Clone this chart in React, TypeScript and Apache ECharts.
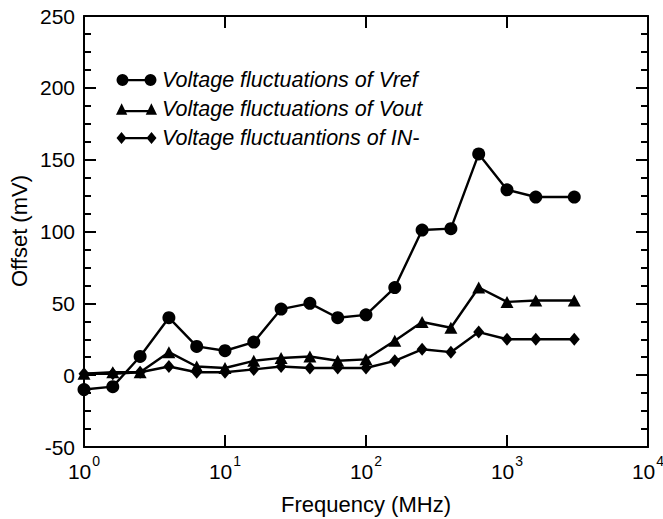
import React, { useEffect, useRef } from "react";
import * as echarts from "echarts";

const freq = [1, 1.6, 2.5, 4, 6.3, 10, 16, 25, 40, 63, 100, 160, 250, 400, 630, 1000, 1600, 3000];
const vref = [-10, -8, 13, 40, 20, 17, 23, 46, 50, 40, 42, 61, 101, 102, 154, 129, 124, 124];
const vout = [1, 2, 2, 16, 6, 5, 10, 12, 13, 10, 11, 24, 37, 33, 61, 51, 52, 52];
const inMinus = [1, 1, 2, 6, 2, 2, 4, 6, 5, 5, 5, 10, 18, 16, 30, 25, 25, 25];
const seriesNames = [
  "Voltage fluctuations of Vref",
  "Voltage fluctuations of Vout",
  "Voltage fluctuantions of IN-",
];
const xTitle = "Frequency (MHz)";
const yTitle = "Offset (mV)";

const FONT = "'Liberation Sans', Arial, Helvetica, sans-serif";

const iconCircle =
  "path://M0,6A6,6,0,1,1,12,6A6,6,0,1,1,0,6ZM6,5H34V7.2H6ZM28,6A6,6,0,1,1,40,6A6,6,0,1,1,28,6Z";
const iconTriangle =
  "path://M0,11L5.5,0L11,11ZM5.5,6.5H34.5V8.7H5.5ZM29,11L34.5,0L40,11Z";
const iconDiamond =
  "path://M0,6L5,0L10,6L5,12ZM5,5H35V7.2H5ZM30,6L35,0L40,6L35,12Z";

function pairs(ys: number[]) {
  return freq.map((f, i) => [f, ys[i]]);
}

export default function App() {
  const ref = useRef<HTMLDivElement>(null);
  useEffect(() => {
    if (!ref.current) return;
    const chart = echarts.init(ref.current, undefined, { renderer: "svg" });
    const common = {
      type: "line",
      lineStyle: { color: "#000", width: 2.4 },
      itemStyle: { color: "#000" },
      smooth: false,
    };
    chart.setOption({
      animation: false,
      grid: { left: 84, right: 15, top: 16, bottom: 72, outerBoundsMode: "none" },
      legend: {
        orient: "vertical",
        left: 116,
        top: 69,
        itemGap: 7,
        itemWidth: 41,
        itemHeight: 12,
        padding: 0,
        selectedMode: false,
        textStyle: { fontSize: 21.5, fontStyle: "italic", color: "#000", fontFamily: FONT },
        data: [
          { name: seriesNames[0], icon: iconCircle },
          { name: seriesNames[1], icon: iconTriangle },
          { name: seriesNames[2], icon: iconDiamond },
        ],
      },
      graphic: [
        {
          type: "text",
          x: 366,
          y: 504,
          style: {
            text: xTitle,
            fontSize: 22,
            fontFamily: FONT,
            fill: "#000",
            align: "center",
            verticalAlign: "middle",
          },
        },
        {
          type: "text",
          x: 19,
          y: 231,
          rotation: Math.PI / 2,
          style: {
            text: yTitle,
            fontSize: 22,
            fontFamily: FONT,
            fill: "#000",
            align: "center",
            verticalAlign: "middle",
          },
        },
      ],
      xAxis: [
        {
          type: "log",
          min: 1,
          max: 10000,
          splitLine: { show: false },
          axisLine: { onZero: false, lineStyle: { color: "#000", width: 2 } },
          axisTick: { show: true, inside: true, length: 12, lineStyle: { color: "black", width: 2 } },
          axisLabel: {
            margin: 7,
            formatter: (v: number) => `{b|10}{s|${Math.round(Math.log10(v))}}`,
            rich: {
              b: { fontSize: 21, color: "#000", fontFamily: FONT },
              s: { fontSize: 14, color: "#000", fontFamily: FONT, padding: [0, 0, 20, 1] },
            },
          },
        },
        {
          type: "log",
          min: 1,
          max: 10000,
          position: "top",
          splitLine: { show: false },
          axisLine: { onZero: false, lineStyle: { color: "#000", width: 2 } },
          axisTick: { show: true, inside: true, length: 12, lineStyle: { color: "black", width: 2 } },
          axisLabel: { show: false },
        },
      ],
      yAxis: [
        {
          type: "value",
          min: -50,
          max: 250,
          interval: 50,
          splitLine: { show: false },
          axisLine: { show: true, onZero: false, lineStyle: { color: "#000", width: 2 } },
          axisTick: { show: true, inside: true, length: 12, lineStyle: { color: "black", width: 2 } },
          minorTick: { show: true, splitNumber: 4, length: 7, lineStyle: { color: "black", width: 2 } },
          axisLabel: { margin: 9, fontSize: 21, color: "#000", fontFamily: FONT },
        },
        {
          type: "value",
          min: -50,
          max: 250,
          interval: 50,
          position: "right",
          splitLine: { show: false },
          axisLine: { show: true, onZero: false, lineStyle: { color: "#000", width: 2 } },
          axisTick: { show: true, inside: true, length: 12, lineStyle: { color: "black", width: 2 } },
          minorTick: { show: true, splitNumber: 4, length: 7, lineStyle: { color: "black", width: 2 } },
          axisLabel: { show: false },
        },
      ],
      series: [
        { ...common, name: seriesNames[0], data: pairs(vref), symbol: "circle", symbolSize: 13 },
        { ...common, name: seriesNames[1], data: pairs(vout), symbol: "triangle", symbolSize: [13, 12] },
        { ...common, name: seriesNames[2], data: pairs(inMinus), symbol: "diamond", symbolSize: [11, 13] },
      ],
    });
    return () => chart.dispose();
  }, []);
  return (
    <div
      ref={ref}
      style={{ position: "fixed", left: 0, top: 0, width: 663, height: 519, background: "#fff" }}
    />
  );
}
